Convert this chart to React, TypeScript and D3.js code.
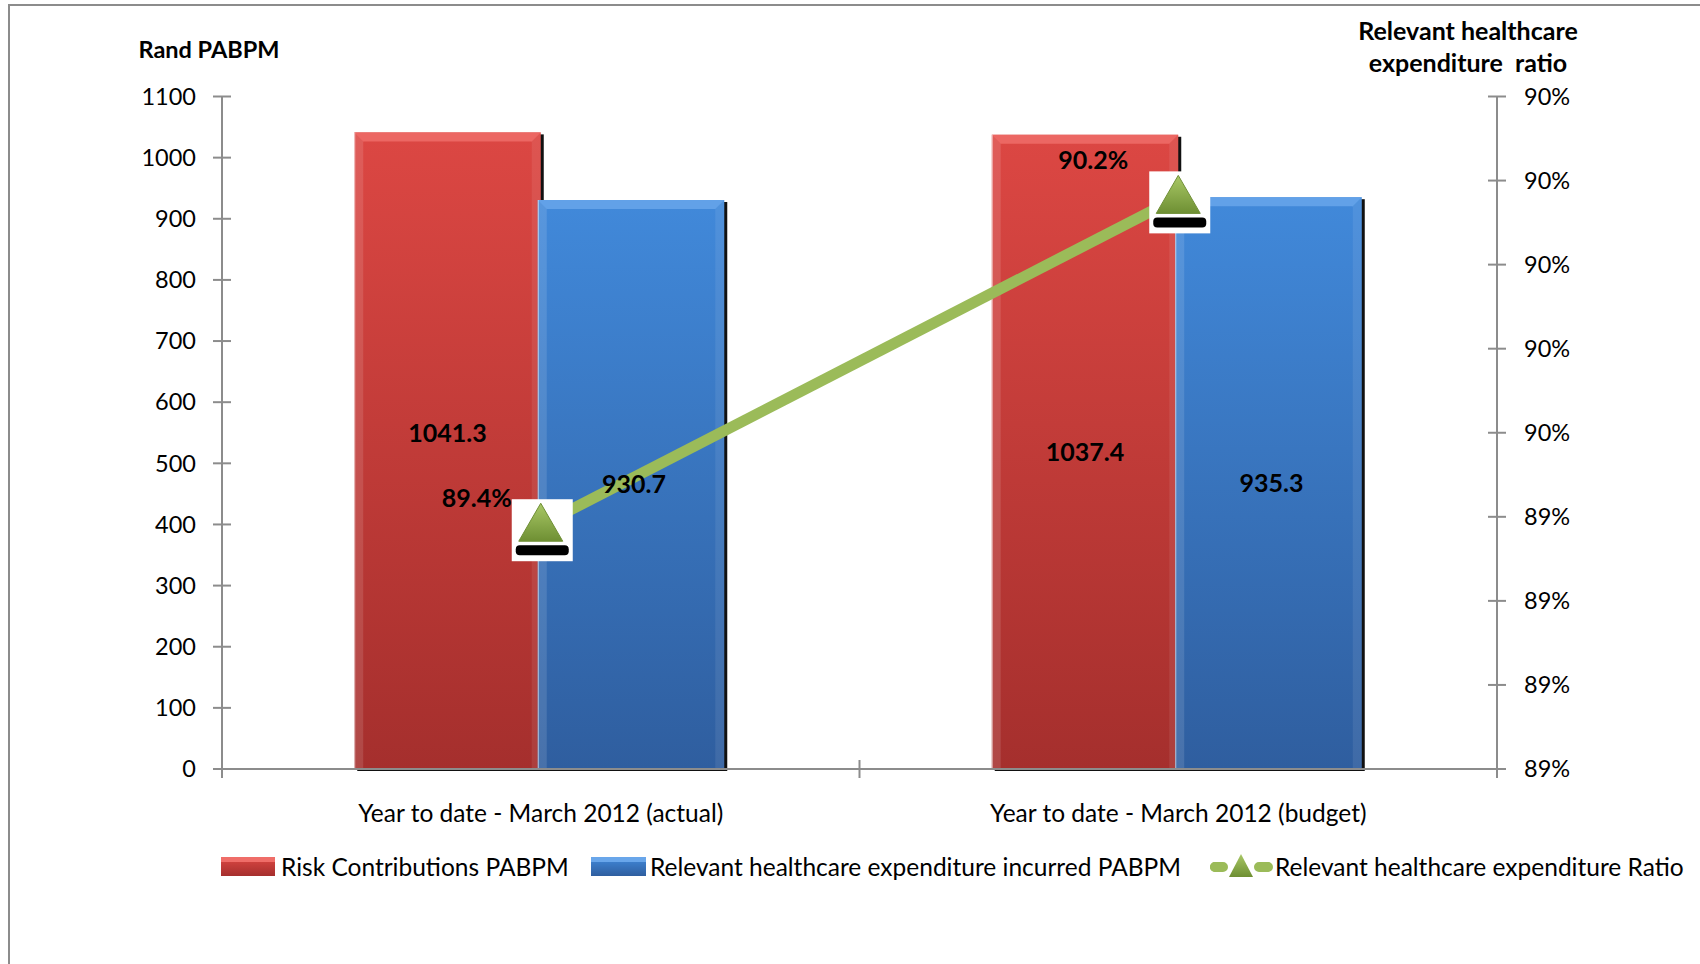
import React from 'react';
import * as d3 from 'd3';

const categories = ['Year to date - March 2012 (actual)', 'Year to date - March 2012 (budget)'];
const seriesNames = ['Risk Contributions PABPM', 'Relevant healthcare expenditure incurred PABPM'];
const riskContributions = [1041.3, 1037.4];
const healthcareExpenditure = [930.7, 935.3];
const ratioName = 'Relevant healthcare expenditure Ratio';
const ratioValues = [0.8938, 0.9016];
const ratioLabels = ['89.4%', '90.2%'];
const barLabels = [['1041.3', '1037.4'], ['930.7', '935.3']];
const leftTicks = [0, 100, 200, 300, 400, 500, 600, 700, 800, 900, 1000, 1100];
const rightTicks = [0.888, 0.89, 0.892, 0.894, 0.896, 0.898, 0.9, 0.902, 0.904];
const leftTitle = 'Rand PABPM';
const rightTitle = ['Relevant healthcare', 'expenditure  ratio'];

// style constants
const W = 1700, H = 964;
const PL = 222, PR = 1497, PT = 96.5, PB = 769;
const FONT = 'Lato, "Open Sans", sans-serif';
const AXIS = '#8c8c8c';
const FS_TEXT = 24.5;
const FS_TICK = 23.5;
const FS_BOLD = 25;
const barLabelDy = [[-17, 0], [0, 0]];
const ratioLabelOffset = [[-64, -27], [-85, -37]];
const seriesFill = ['url(#gRed)', 'url(#gBlue)'];
const seriesBevel = ['#ef6d68', '#69a6ea'];

function Bar({ x, y, w, h, fill, bevel }: any) {
  const b = 9;
  return (
    <g>
      <rect x={x + 3} y={y + 2} width={w} height={h} fill="#111" />
      <rect x={x} y={y} width={w} height={h} fill={fill} />
      <polygon points={`${x},${y} ${x + w},${y} ${x + w - b},${y + b} ${x + b},${y + b}`} fill={bevel} opacity={0.85} />
      <polygon points={`${x},${y} ${x + b},${y + b} ${x + b},${y + h} ${x},${y + h}`} fill="#fff" opacity={0.12} />
      <polygon points={`${x + w},${y} ${x + w - b},${y + b} ${x + w - b},${y + h} ${x + w},${y + h}`} fill="#fff" opacity={0.08} />
      <line x1={x + 0.5} y1={y} x2={x + 0.5} y2={y + h} stroke="#fff" strokeOpacity={0.6} strokeWidth={1} />
    </g>
  );
}

function Marker({ cx, cy }: any) {
  return (
    <g>
      <rect x={cx - 29} y={cy - 26} width={61} height={62} fill="#fff" />
      <polygon points={`${cx},${cy - 22} ${cx + 22},${cy + 16} ${cx - 22},${cy + 16}`} fill="url(#gTri)" stroke="#6f8f35" strokeWidth={1} />
      <rect x={cx - 25} y={cy + 20} width={53} height={10} rx={4} fill="#000" />
    </g>
  );
}

export default function App() {
  const x0 = d3.scaleBand<string>().domain(categories).range([PL, PR]).paddingInner(0).paddingOuter(0);
  const x1 = d3.scaleBand<string>().domain(seriesNames).range([0, x0.bandwidth()]).paddingInner(0).paddingOuter(0.709);
  const yL = d3.scaleLinear().domain([0, 1100]).range([PB, PT]);
  const yR = d3.scaleLinear().domain([0.888, 0.904]).range([PB, PT]);
  const fmtR = d3.format('.0%');
  const seriesValues = [riskContributions, healthcareExpenditure];
  const pts = categories.map((c, i) => [x0(c)! + x0.bandwidth() / 2, yR(ratioValues[i])] as [number, number]);
  const lineGen = d3.line();

  return (
    <svg width={W} height={H} style={{ position: 'absolute', left: 0, top: 0, background: '#fff' }} fontFamily={FONT}>
      <defs>
        <linearGradient id="gRed" x1="0" y1="0" x2="0" y2="1">
          <stop offset="0" stopColor="#dc4743" />
          <stop offset="1" stopColor="#a52f2d" />
        </linearGradient>
        <linearGradient id="gBlue" x1="0" y1="0" x2="0" y2="1">
          <stop offset="0" stopColor="#4189da" />
          <stop offset="1" stopColor="#2f5e9f" />
        </linearGradient>
        <linearGradient id="gTri" x1="0" y1="0" x2="0" y2="1">
          <stop offset="0" stopColor="#a9c866" />
          <stop offset="1" stopColor="#6e8f33" />
        </linearGradient>
      </defs>
      <rect x={0} y={0} width={W} height={H} fill="#fff" />
      <rect x={9} y={5} width={W + 20} height={H + 20} fill="none" stroke={AXIS} strokeWidth={2} />

      {/* bars */}
      {seriesNames.map((s, si) =>
        categories.map((c, ci) => {
          const v = seriesValues[si][ci];
          const x = x0(c)! + x1(s)! + (si === 1 ? -3 : 0);
          return <Bar key={s + c} x={x} y={yL(v)} w={x1.bandwidth()} h={PB - yL(v)} fill={seriesFill[si]} bevel={seriesBevel[si]} />;
        })
      )}

      {/* axes */}
      <line x1={PL} y1={PB} x2={PR} y2={PB} stroke={AXIS} strokeWidth={2} />
      <line x1={PL} y1={PT} x2={PL} y2={PB + 9} stroke={AXIS} strokeWidth={2} />
      <line x1={PR} y1={PT} x2={PR} y2={PB + 9} stroke={AXIS} strokeWidth={2} />
      {categories.slice(1).map((c) => (
        <line key={c} x1={x0(c)!} x2={x0(c)!} y1={PB - 9} y2={PB + 9} stroke={AXIS} strokeWidth={2} />
      ))}
      {leftTicks.map((t) => (
        <g key={'l' + t}>
          <line x1={PL - 9} x2={PL + 9} y1={yL(t)} y2={yL(t)} stroke={AXIS} strokeWidth={2} />
          <text x={196} y={yL(t)} dy="0.35em" textAnchor="end" fontSize={FS_TICK} fill="#000">{t}</text>
        </g>
      ))}
      {rightTicks.map((t) => (
        <g key={'r' + t}>
          <line x1={PR - 9} x2={PR + 9} y1={yR(t)} y2={yR(t)} stroke={AXIS} strokeWidth={2} />
          <text x={1524} y={yR(t)} dy="0.35em" textAnchor="start" fontSize={FS_TICK} fill="#000">{fmtR(t)}</text>
        </g>
      ))}
      {categories.map((c) => (
        <text key={c} x={x0(c)! + x0.bandwidth() / 2} y={813} dy="0.35em" textAnchor="middle" fontSize={FS_TEXT} fill="#000">{c}</text>
      ))}

      {/* titles */}
      <text x={209} y={50} dy="0.35em" textAnchor="middle" fontSize={23.5} fontWeight="bold" fill="#000">{leftTitle}</text>
      {rightTitle.map((t, i) => (
        <text key={t} x={1468} y={31 + i * 32} dy="0.35em" textAnchor="middle" fontSize={FS_BOLD} fontWeight="bold" fill="#000" style={{ whiteSpace: 'pre' }}>{t}</text>
      ))}

      {/* ratio line */}
      <path d={lineGen(pts)!} fill="none" stroke="#9bbb59" strokeWidth={11} />
      {pts.map((p, i) => <Marker key={'m' + i} cx={p[0]} cy={p[1]} />)}
      {pts.map((p, i) => (
        <text key={'rl' + i} x={p[0] + ratioLabelOffset[i][0]} y={p[1] + ratioLabelOffset[i][1]} dy="0.35em" textAnchor="middle" fontSize={FS_BOLD} fontWeight="bold" fill="#000">
          {ratioLabels[i]}
        </text>
      ))}

      {/* bar labels */}
      {seriesNames.map((s, si) =>
        categories.map((c, ci) => {
          const v = seriesValues[si][ci];
          const x = x0(c)! + x1(s)! + x1.bandwidth() / 2;
          return (
            <text key={'bl' + s + c} x={x} y={(yL(v) + PB) / 2 + barLabelDy[si][ci]} dy="0.35em" textAnchor="middle" fontSize={FS_BOLD} fontWeight="bold" fill="#000">
              {barLabels[si][ci]}
            </text>
          );
        })
      )}

      {/* legend */}
      <g>
        <rect x={221} y={857} width={54} height={19} fill="url(#gRed)" />
        <rect x={221} y={857} width={54} height={5} fill="#ef6d68" />
        <text x={281} y={867} dy="0.35em" fontSize={FS_TEXT} fill="#000">{seriesNames[0]}</text>
        <rect x={591} y={857} width={55} height={19} fill="url(#gBlue)" />
        <rect x={591} y={857} width={55} height={5} fill="#69a6ea" />
        <text x={650} y={867} dy="0.35em" fontSize={FS_TEXT} fill="#000">{seriesNames[1]}</text>
        <line x1={1215} x2={1268} y1={867} y2={867} stroke="#9bbb59" strokeWidth={10} strokeLinecap="round" strokeDasharray="8 36" />
        <line x1={1215} x2={1268} y1={867} y2={867} stroke="#9bbb59" strokeWidth={10} strokeLinecap="round" strokeDasharray="0 47 8 0" />
        <polygon points="1241,854 1253,877 1229,877" fill="url(#gTri)" />
        <text x={1275} y={867} dy="0.35em" fontSize={FS_TEXT} fill="#000">{ratioName}</text>
      </g>
    </svg>
  );
}
